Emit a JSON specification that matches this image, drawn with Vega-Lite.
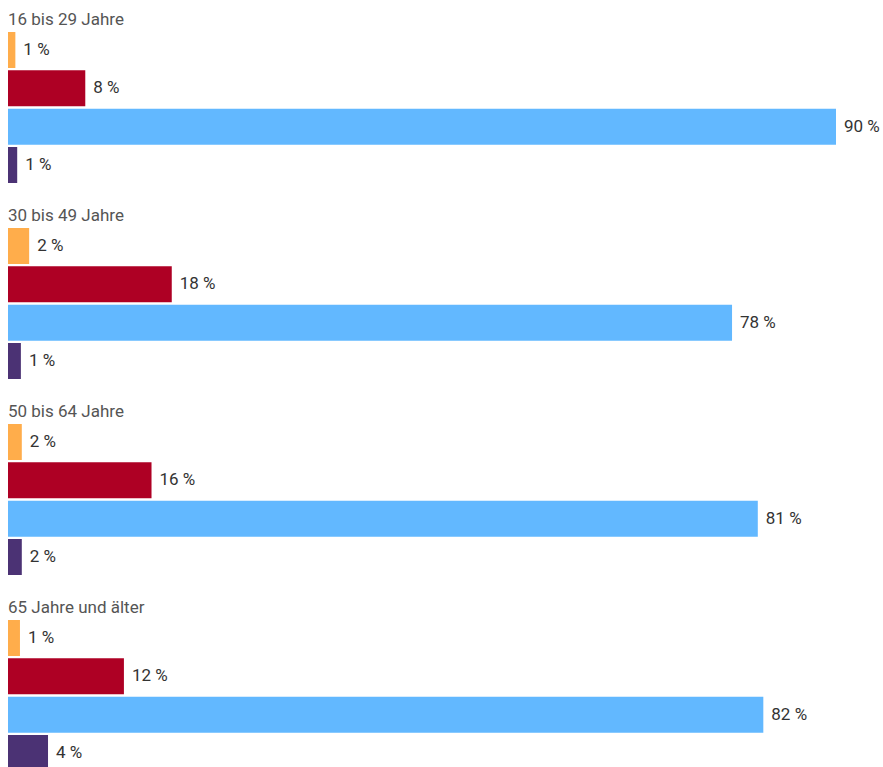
{
  "$schema": "https://vega.github.io/schema/vega-lite/v6.json",
  "padding": {"left": 8, "top": 11, "right": 0, "bottom": 0},
  "data": {"values": [
    {"group": "16 bis 29 Jahre", "cat": "Antwort 1", "value": 0.8, "label": "1 %"},
    {"group": "16 bis 29 Jahre", "cat": "Antwort 2", "value": 8.4, "label": "8 %"},
    {"group": "16 bis 29 Jahre", "cat": "Antwort 3", "value": 90.0, "label": "90 %"},
    {"group": "16 bis 29 Jahre", "cat": "Antwort 4", "value": 1.0, "label": "1 %"},
    {"group": "30 bis 49 Jahre", "cat": "Antwort 1", "value": 2.3, "label": "2 %"},
    {"group": "30 bis 49 Jahre", "cat": "Antwort 2", "value": 17.8, "label": "18 %"},
    {"group": "30 bis 49 Jahre", "cat": "Antwort 3", "value": 78.7, "label": "78 %"},
    {"group": "30 bis 49 Jahre", "cat": "Antwort 4", "value": 1.4, "label": "1 %"},
    {"group": "50 bis 64 Jahre", "cat": "Antwort 1", "value": 1.5, "label": "2 %"},
    {"group": "50 bis 64 Jahre", "cat": "Antwort 2", "value": 15.6, "label": "16 %"},
    {"group": "50 bis 64 Jahre", "cat": "Antwort 3", "value": 81.5, "label": "81 %"},
    {"group": "50 bis 64 Jahre", "cat": "Antwort 4", "value": 1.5, "label": "2 %"},
    {"group": "65 Jahre und älter", "cat": "Antwort 1", "value": 1.3, "label": "1 %"},
    {"group": "65 Jahre und älter", "cat": "Antwort 2", "value": 12.6, "label": "12 %"},
    {"group": "65 Jahre und älter", "cat": "Antwort 3", "value": 82.1, "label": "82 %"},
    {"group": "65 Jahre und älter", "cat": "Antwort 4", "value": 4.35, "label": "4 %"}
  ]},
  "facet": {
    "row": {
      "field": "group",
      "type": "nominal",
      "sort": ["16 bis 29 Jahre", "30 bis 49 Jahre", "50 bis 64 Jahre", "65 Jahre und älter"],
      "header": {
        "title": null,
        "labelOrient": "top",
        "labelAnchor": "start",
        "labelAlign": "left",
        "labelAngle": 0,
        "labelFont": "Roboto",
        "labelFontSize": 17,
        "labelColor": "#555555",
        "labelPadding": -10,
        "labelBaseline": "alphabetic"
      }
    }
  },
  "spacing": 24,
  "spec": {
    "width": 828,
    "height": 151,
    "encoding": {
      "y": {"field": "cat", "type": "nominal", "sort": ["Antwort 1", "Antwort 2", "Antwort 3", "Antwort 4"], "axis": null, "scale": {"paddingInner": 0.06, "paddingOuter": 0}},
      "x": {"field": "value", "type": "quantitative", "axis": null, "scale": {"domain": [0, 90]}}
    },
    "layer": [
      {
        "mark": {"type": "bar"},
        "encoding": {
          "color": {"field": "cat", "type": "nominal", "legend": null,
            "scale": {"domain": ["Antwort 1", "Antwort 2", "Antwort 3", "Antwort 4"], "range": ["#FFAD4B", "#AE0024", "#62B8FF", "#4B3274"]}}
        }
      },
      {
        "mark": {"type": "text", "align": "left", "baseline": "middle", "dx": 8, "font": "Roboto", "fontSize": 17, "color": "#333333"},
        "encoding": {"text": {"field": "label", "type": "nominal"}}
      }
    ]
  },
  "config": {"view": {"stroke": null}}
}
